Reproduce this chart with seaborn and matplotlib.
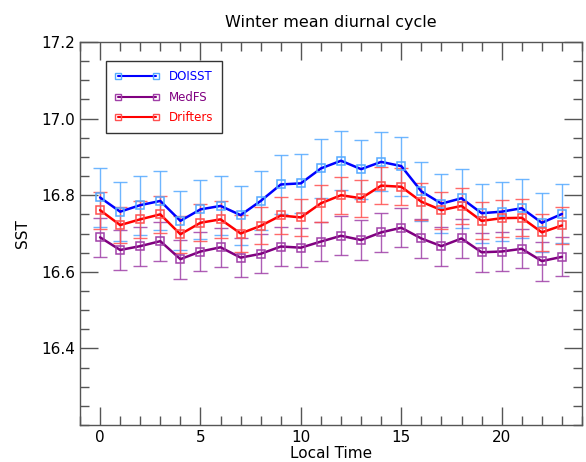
import numpy as np
import pandas as pd
import seaborn as sns
import matplotlib
matplotlib.use("Agg")
import matplotlib.pyplot as plt
from matplotlib.ticker import MultipleLocator
from matplotlib.lines import Line2D

hours = list(range(24))
doisst = [16.794, 16.757, 16.774, 16.785, 16.733, 16.763, 16.772, 16.748, 16.785, 16.828,
          16.831, 16.870, 16.890, 16.868, 16.887, 16.876, 16.810, 16.778, 16.792, 16.753,
          16.757, 16.766, 16.728, 16.751]
medfs = [16.690, 16.657, 16.667, 16.680, 16.633, 16.653, 16.664, 16.637, 16.647, 16.666,
         16.663, 16.679, 16.694, 16.683, 16.703, 16.715, 16.687, 16.667, 16.687, 16.651,
         16.653, 16.660, 16.628, 16.639]
drifters = [16.761, 16.722, 16.737, 16.750, 16.698, 16.728, 16.737, 16.700, 16.720, 16.747,
            16.742, 16.779, 16.800, 16.792, 16.825, 16.822, 16.783, 16.761, 16.772, 16.733,
            16.740, 16.741, 16.703, 16.721]
err_doisst = [0.077] * 24
err_medfs = [0.051] * 24
err_drifters = [0.048] * 24

names = ["DOISST", "MedFS", "Drifters"]
means = [doisst, medfs, drifters]
errs = [err_doisst, err_medfs, err_drifters]
line_cols = ["#0000ff", "#800080", "#ff0000"]
light_cols = ["#55aaff", "#a040a8", "#ff5050"]

df = pd.DataFrame({
    "hour": hours * 3,
    "sst": doisst + medfs + drifters,
    "source": sum([[n] * 24 for n in names], []),
})

sns.set_style("ticks")
plt.rcParams["font.family"] = ["DejaVu Sans"]
plt.rcParams["text.color"] = "black"
plt.rcParams["axes.labelcolor"] = "black"

fig = plt.figure(figsize=(5.86, 4.62), dpi=100)
ax = fig.add_axes([80 / 586, 1 - 425 / 462, 502 / 586, 383 / 462])

for n, m, e, lc, ec in zip(names, means, errs, line_cols, light_cols):
    ax.errorbar(hours, m, yerr=e, fmt="none", ecolor=ec, elinewidth=1.0,
                capsize=5, capthick=1.0, alpha=0.85, zorder=2)

sns.lineplot(data=df, x="hour", y="sst", hue="source", palette=dict(zip(names, line_cols)),
             ax=ax, linewidth=1.8, legend=False, zorder=3)

for n, m, lc, ec in zip(names, means, line_cols, light_cols):
    ax.plot(hours, m, linestyle="none", marker="s", markersize=5.5, markerfacecolor="none",
            markeredgecolor=ec, markeredgewidth=1.1, zorder=4)

ax.set_xlim(-1, 24)
ax.set_ylim(16.2, 17.2)
ax.set_yticks([16.4, 16.6, 16.8, 17.0, 17.2])
ax.set_yticklabels(["16.4", "16.6", "16.8", "17.0", "17.2"])
ax.set_xticks([0, 5, 10, 15, 20])
ax.xaxis.set_minor_locator(MultipleLocator(1))
ax.yaxis.set_minor_locator(MultipleLocator(0.05))
ax.tick_params(which="both", direction="in", top=True, right=True, colors="#555555",
               labelcolor="black", labelsize=11)
ax.tick_params(which="major", length=13, width=1.0)
ax.tick_params(which="minor", length=6.5, width=1.0)
for s in ax.spines.values():
    s.set_color("#555555")
    s.set_linewidth(1.0)

ax.set_xlabel("Local Time", fontsize=11, labelpad=1, color="black")
ax.set_ylabel("SST", fontsize=11, labelpad=8, color="black")
ax.set_title("Winter mean diurnal cycle", fontsize=11.5, pad=11, color="black")

handles = [Line2D([0], [0], color=lc, lw=1.5, marker="s", markersize=4.5,
                  markerfacecolor="none", markeredgecolor=ec, markeredgewidth=1.0)
           for lc, ec in zip(line_cols, light_cols)]
leg = ax.legend(handles, names, loc="upper left", bbox_to_anchor=(0.052, 0.95), borderaxespad=0,
                numpoints=2, fontsize=8.5, frameon=True, fancybox=False, handlelength=3.8,
                labelspacing=0.65, borderpad=0.75, handletextpad=0.75)
leg.get_frame().set_edgecolor("black")
leg.get_frame().set_linewidth(1.0)
for t, c in zip(leg.get_texts(), line_cols):
    t.set_color(c)

fig.savefig("out.png", dpi=100)
